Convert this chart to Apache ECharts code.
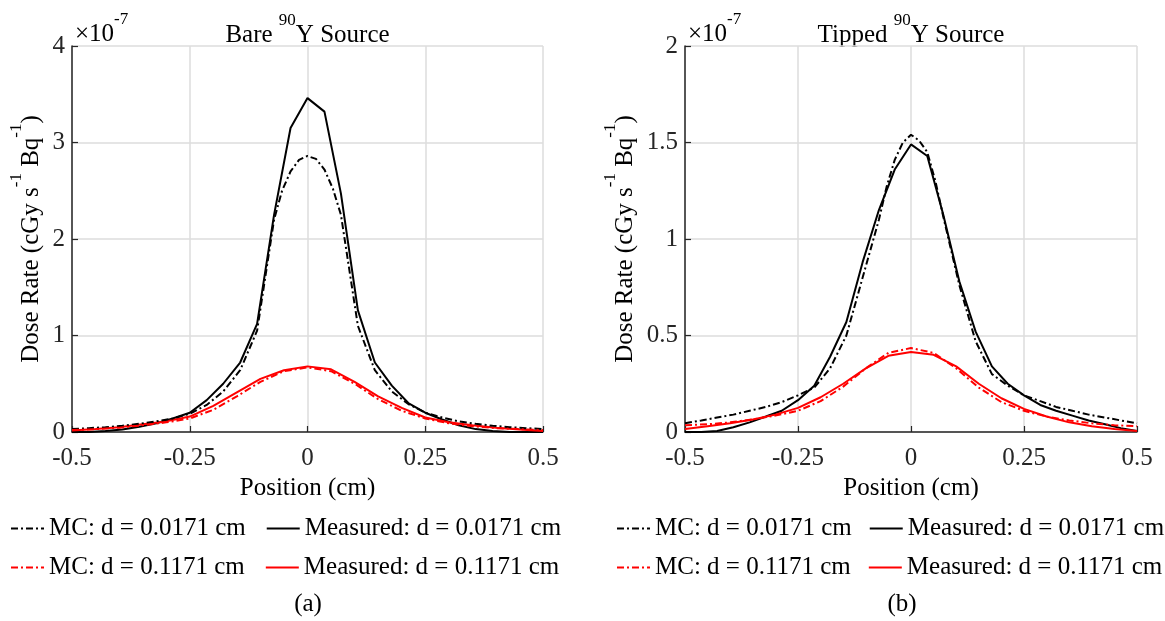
<!DOCTYPE html>
<html>
<head>
<meta charset="utf-8">
<script src="https://cdn.jsdelivr.net/npm/echarts@6/dist/echarts.min.js"></script>
<style>
html,body{margin:0;padding:0;background:#fff;}
#chart{width:1165px;height:621px;}
</style>
</head>
<body>
<div id="chart"></div>
<script>
// ---- Data (dose rate in units of 1e-7 cGy s^-1 Bq^-1) ----
const seriesNames = ['MC: d = 0.0171 cm', 'Measured: d = 0.0171 cm', 'MC: d = 0.1171 cm', 'Measured: d = 0.1171 cm'];
const xTicks = [-0.5, -0.25, 0, 0.25, 0.5];

// positions (cm)
const xMeas = [-0.5,-0.464,-0.429,-0.393,-0.357,-0.321,-0.286,-0.25,-0.214,-0.179,-0.143,-0.107,-0.071,-0.036,0,0.036,0.071,0.107,0.143,0.179,0.214,0.25,0.286,0.321,0.357,0.393,0.429,0.464,0.5];
const xMC = [-0.5,-0.464,-0.429,-0.393,-0.357,-0.321,-0.286,-0.25,-0.214,-0.179,-0.143,-0.107,-0.071,-0.054,-0.036,-0.018,0,0.018,0.036,0.054,0.071,0.107,0.143,0.179,0.214,0.25,0.286,0.321,0.357,0.393,0.429,0.464,0.5];
const xRed = [-0.5,-0.45,-0.4,-0.35,-0.3,-0.25,-0.2,-0.15,-0.1,-0.05,0,0.05,0.1,0.15,0.2,0.25,0.3,0.35,0.4,0.45,0.5];

// (a) Bare 90Y source
const bareMeasBlack = [0,0,0.01,0.025,0.055,0.09,0.14,0.2,0.33,0.5,0.72,1.12,2.25,3.15,3.46,3.32,2.47,1.26,0.72,0.48,0.3,0.2,0.13,0.07,0.03,0.01,0,0,0];
const bareMCBlack = [0.03,0.04,0.05,0.065,0.085,0.11,0.14,0.19,0.28,0.42,0.64,1.05,2.2,2.5,2.7,2.82,2.86,2.83,2.72,2.52,2.25,1.1,0.64,0.42,0.29,0.2,0.15,0.11,0.085,0.065,0.05,0.04,0.03];
const bareMeasRed = [0.015,0.03,0.05,0.08,0.11,0.16,0.27,0.41,0.55,0.64,0.68,0.65,0.52,0.37,0.25,0.15,0.1,0.07,0.045,0.025,0.01];
const bareMCRed = [0.02,0.03,0.045,0.07,0.1,0.14,0.23,0.37,0.52,0.63,0.67,0.63,0.5,0.34,0.22,0.14,0.09,0.06,0.04,0.03,0.02];

// (b) Tipped 90Y source
const tipMeasBlack = [0,0,0.005,0.025,0.05,0.08,0.11,0.165,0.24,0.39,0.57,0.88,1.15,1.36,1.49,1.43,1.13,0.78,0.52,0.34,0.25,0.19,0.14,0.11,0.085,0.06,0.04,0.02,0.005];
const tipMCBlack = [0.045,0.06,0.075,0.09,0.11,0.13,0.155,0.19,0.23,0.33,0.5,0.8,1.1,1.27,1.41,1.5,1.54,1.51,1.45,1.3,1.12,0.76,0.47,0.3,0.24,0.19,0.16,0.13,0.11,0.09,0.075,0.06,0.045];
const tipMeasRed = [0.015,0.03,0.045,0.065,0.09,0.125,0.18,0.25,0.33,0.395,0.415,0.4,0.34,0.25,0.175,0.12,0.08,0.05,0.03,0.015,0.005];
const tipMCRed = [0.035,0.04,0.05,0.065,0.085,0.11,0.16,0.235,0.33,0.41,0.435,0.41,0.33,0.23,0.155,0.11,0.08,0.06,0.045,0.035,0.03];

// ---- Helpers ----
const FONT = 'Liberation Serif';
const FS = 25;
const zip = (xs, ys) => xs.map((x, i) => [x, ys[i]]);
const dashDot = [7, 3, 2, 3];
const rich = {
  n: { fontFamily: FONT, fontSize: FS, color: '#000', lineHeight: 36, verticalAlign: 'bottom', align: 'left' },
  s: { fontFamily: FONT, fontSize: 17, color: '#000', lineHeight: 17, verticalAlign: 'top', align: 'left' }
};

function xAxisOf(gi) {
  return {
    gridIndex: gi, type: 'value', min: -0.5, max: 0.5, interval: 0.25,
    name: 'Position (cm)', nameLocation: 'middle', nameGap: 44,
    nameTextStyle: { fontFamily: FONT, fontSize: FS, color: '#000' },
    axisLine: { show: true, onZero: false, lineStyle: { color: '#262626', width: 1.5 } },
    axisTick: { show: true, inside: true, length: 6, lineStyle: { color: '#262626', width: 1.2 } },
    axisLabel: { fontFamily: FONT, fontSize: FS, color: '#262626', margin: 14,
      formatter: v => xTicks.includes(+v.toFixed(2)) ? String(+v.toFixed(2)) : '' },
    splitLine: { show: true, lineStyle: { color: '#dcdcdc', width: 1.5 } }
  };
}
function yAxisOf(gi, max, interval, gap) {
  return {
    gridIndex: gi, type: 'value', min: 0, max: max, interval: interval,
    name: '{n|Dose Rate (cGy s}{s|-1}{n| Bq}{s|-1}{n|)}',
    nameLocation: 'middle', nameRotate: 90, nameGap: gap,
    nameTextStyle: { rich: rich },
    axisLine: { show: true, onZero: false, lineStyle: { color: '#262626', width: 1.5 } },
    axisTick: { show: true, inside: true, length: 6, lineStyle: { color: '#262626', width: 1.2 } },
    axisLabel: { fontFamily: FONT, fontSize: FS, color: '#262626', margin: 7 },
    splitLine: { show: true, lineStyle: { color: '#dcdcdc', width: 1.5 } }
  };
}
function line(name, gi, data, color, dashed) {
  return {
    name: name, type: 'line', xAxisIndex: gi, yAxisIndex: gi, data: data,
    symbol: 'none', showSymbol: false, silent: true,
    lineStyle: { color: color, width: 2, type: dashed ? dashDot : 'solid' },
    itemStyle: { color: color },
    z: dashed ? 3 : 2
  };
}
function legendOf(left, top, gap, names) {
  return {
    left: left, top: top, width: 600, orient: 'horizontal', padding: 0,
    itemWidth: 33, itemHeight: 14, itemGap: gap,
    data: names, selectedMode: false,
    itemStyle: { opacity: 0 },
    textStyle: { fontFamily: FONT, fontSize: 25, color: '#000' }
  };
}
function textEl(x, y, txt, align) {
  return {
    type: 'text', x: x, y: y, silent: true,
    style: { text: txt, rich: rich, align: align || 'center', verticalAlign: 'middle',
      fontFamily: FONT, fontSize: FS, fill: '#000' }
  };
}

const chart = echarts.init(document.getElementById('chart'), null, { renderer: 'canvas' });
chart.setOption({
  animation: false,
  backgroundColor: '#fff',
  grid: [
    { left: 72, top: 46, width: 471, height: 386 },
    { left: 685, top: 46, width: 452, height: 386 }
  ],
  xAxis: [xAxisOf(0), xAxisOf(1)],
  yAxis: [yAxisOf(0, 4, 1, 28), yAxisOf(1, 2, 0.5, 47)],
  legend: [
    legendOf(10, 516, 20, [seriesNames[0], seriesNames[1]]),
    legendOf(10, 555, 20, [seriesNames[2], seriesNames[3]]),
    legendOf(616, 516, 17, [seriesNames[0], seriesNames[1]]),
    legendOf(616, 555, 17, [seriesNames[2], seriesNames[3]])
  ],
  graphic: [
    textEl(307.5, 30, '{n|Bare }{s|90}{n|Y Source}'),
    textEl(911, 30, '{n|Tipped }{s|90}{n|Y Source}'),
    textEl(75, 29, '{n|×10}{s|-7}', 'left'),
    textEl(688, 29, '{n|×10}{s|-7}', 'left'),
    textEl(308, 604, '(a)'),
    textEl(902, 604, '(b)')
  ],
  series: [
    line(seriesNames[0], 0, zip(xMC, bareMCBlack), '#000', true),
    line(seriesNames[1], 0, zip(xMeas, bareMeasBlack), '#000', false),
    line(seriesNames[2], 0, zip(xRed, bareMCRed), '#ff0000', true),
    line(seriesNames[3], 0, zip(xRed, bareMeasRed), '#ff0000', false),
    line(seriesNames[0], 1, zip(xMC, tipMCBlack), '#000', true),
    line(seriesNames[1], 1, zip(xMeas, tipMeasBlack), '#000', false),
    line(seriesNames[2], 1, zip(xRed, tipMCRed), '#ff0000', true),
    line(seriesNames[3], 1, zip(xRed, tipMeasRed), '#ff0000', false)
  ]
});
</script>
</body>
</html>
